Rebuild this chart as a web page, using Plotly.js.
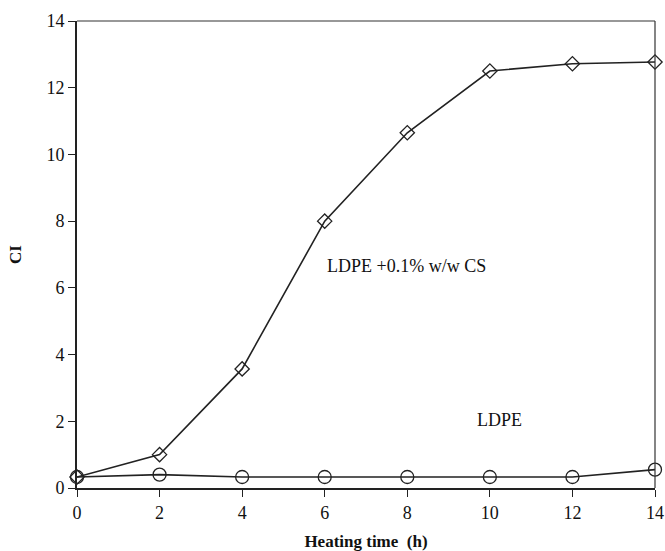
<!DOCTYPE html>
<html><head><meta charset="utf-8">
<script src="https://cdn.plot.ly/plotly-3.0.1.min.js"></script>
<style>html,body{margin:0;padding:0;background:#fff}</style>
</head><body>
<div id="chart" style="width:665px;height:551px"></div>
<script>
const heatingTime = [0, 2, 4, 6, 8, 10, 12, 14];
const ciLdpeCs = [0.33, 1.0, 3.57, 8.0, 10.65, 12.5, 12.72, 12.77];
const ciLdpe = [0.33, 0.4, 0.33, 0.33, 0.33, 0.33, 0.33, 0.55];
const tickVals = [0, 2, 4, 6, 8, 10, 12, 14];

const traces = [
  {x: heatingTime, y: ciLdpeCs, mode: 'lines+markers', name: 'LDPE +0.1% w/w CS',
   line: {color: '#222', width: 1.6},
   marker: {symbol: 'diamond-open', size: 11, color: '#222', line: {width: 1.3}}, cliponaxis: false},
  {x: heatingTime, y: ciLdpe, mode: 'lines+markers', name: 'LDPE',
   line: {color: '#222', width: 1.6},
   marker: {symbol: 'circle-open', size: 13, color: '#222', line: {width: 1.3}}, cliponaxis: false}
];

const fam = '"Liberation Serif", "Times New Roman", serif';
const font = {family: fam, size: 18, color: '#111'};
const layout = {
  width: 665, height: 551,
  margin: {l: 77, r: 10, t: 21, b: 63},
  paper_bgcolor: '#fff', plot_bgcolor: '#fff',
  showlegend: false,
  font: font,
  xaxis: {range: [0, 14], tickvals: tickVals, ticks: 'outside', ticklen: 7, tickwidth: 1.2, tickcolor: '#222',
    showline: true, linecolor: '#222', linewidth: 2, mirror: false, showgrid: false, zeroline: false,
    title: {text: '<b>Heating time  (h)</b>', font: {family: fam, size: 17, color: '#111'}, standoff: 14},
    tickfont: font},
  yaxis: {range: [0, 14], tickvals: tickVals, ticks: 'outside', ticklen: 7, tickwidth: 1.2, tickcolor: '#222',
    showline: true, linecolor: '#222', linewidth: 2, showgrid: false, zeroline: false,
    title: {text: '<b>CI</b>', font: {family: fam, size: 17, color: '#111'}, standoff: 20},
    tickfont: font},
  shapes: [
    {type: 'line', xref: 'paper', yref: 'paper', x0: 0, x1: 1, y0: 1, y1: 1, line: {color: '#333', width: 1.2}},
    {type: 'line', xref: 'paper', yref: 'paper', x0: 1, x1: 1, y0: 0, y1: 1, line: {color: '#333', width: 1.2}}
  ],
  annotations: [
    {x: 7.97, y: 6.65, xref: 'x', yref: 'y', text: 'LDPE +0.1% w/w CS', showarrow: false, font: font},
    {x: 10.24, y: 2.04, xref: 'x', yref: 'y', text: 'LDPE', showarrow: false, font: font}
  ]
};
Plotly.newPlot('chart', traces, layout, {displayModeBar: false});
</script>
</body></html>
